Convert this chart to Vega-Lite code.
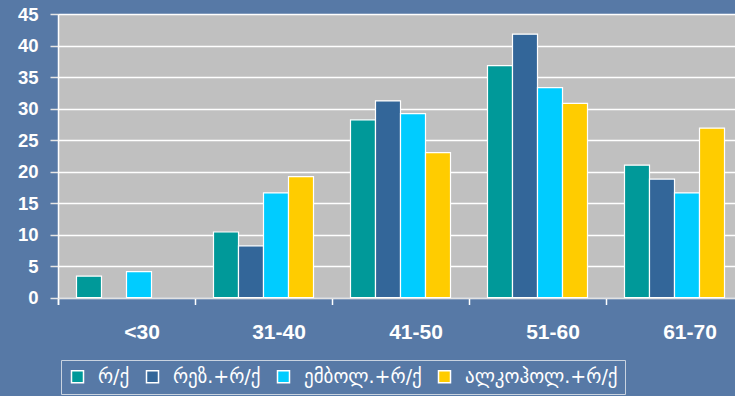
{
  "$schema": "https://vega.github.io/schema/vega-lite/v6.json",
  "width": 677,
  "height": 283.5,
  "autosize": "none",
  "padding": {"left": 58, "top": 14, "right": 0, "bottom": 98.5},
  "background": "#5779a6",
  "data": {
    "values": [
      {"age": "<30", "group": "რ/ქ", "value": 3.4},
      {"age": "<30", "group": "ემბოლ.+რ/ქ", "value": 4.1},
      {"age": "31-40", "group": "რ/ქ", "value": 10.4},
      {"age": "31-40", "group": "რეზ.+რ/ქ", "value": 8.2},
      {"age": "31-40", "group": "ემბოლ.+რ/ქ", "value": 16.6},
      {"age": "31-40", "group": "ალკოჰოლ.+რ/ქ", "value": 19.2},
      {"age": "41-50", "group": "რ/ქ", "value": 28.2},
      {"age": "41-50", "group": "რეზ.+რ/ქ", "value": 31.2},
      {"age": "41-50", "group": "ემბოლ.+რ/ქ", "value": 29.2},
      {"age": "41-50", "group": "ალკოჰოლ.+რ/ქ", "value": 23.0},
      {"age": "51-60", "group": "რ/ქ", "value": 36.8},
      {"age": "51-60", "group": "რეზ.+რ/ქ", "value": 41.8},
      {"age": "51-60", "group": "ემბოლ.+რ/ქ", "value": 33.3},
      {"age": "51-60", "group": "ალკოჰოლ.+რ/ქ", "value": 30.8},
      {"age": "61-70", "group": "რ/ქ", "value": 21.0},
      {"age": "61-70", "group": "რეზ.+რ/ქ", "value": 18.8},
      {"age": "61-70", "group": "ემბოლ.+რ/ქ", "value": 16.6},
      {"age": "61-70", "group": "ალკოჰოლ.+რ/ქ", "value": 26.9}
    ]
  },
  "mark": {"type": "bar", "stroke": "white", "strokeWidth": 1.2},
  "encoding": {
    "x": {
      "field": "age",
      "type": "nominal",
      "sort": ["<30", "31-40", "41-50", "51-60", "61-70"],
      "scale": {"range": [0, 685], "paddingInner": 0.27, "paddingOuter": 0.135},
      "axis": {
        "title": null,
        "grid": false,
        "labelAngle": 0,
        "domainColor": "#d8d8d8",
        "domainWidth": 1.5,
        "bandPosition": 0,
        "tickExtra": true,
        "tickOffset": -18.5,
        "tickColor": "white",
        "tickSize": 7,
        "tickWidth": 1.5,
        "labelColor": "white",
        "labelFont": "Liberation Sans",
        "labelFontWeight": "bold",
        "labelFontSize": 21,
        "labelOffset": 33.5,
        "labelPadding": 17
      }
    },
    "xOffset": {
      "field": "group",
      "type": "nominal",
      "sort": ["რ/ქ", "რეზ.+რ/ქ", "ემბოლ.+რ/ქ", "ალკოჰოლ.+რ/ქ"],
      "scale": {"paddingInner": 0, "paddingOuter": 0}
    },
    "y": {
      "field": "value",
      "type": "quantitative",
      "scale": {"domain": [0, 45], "nice": false},
      "axis": {
        "title": null,
        "values": [0, 5, 10, 15, 20, 25, 30, 35, 40, 45],
        "domainColor": "white",
        "domainWidth": 1.5,
        "tickColor": "#e6e6e6",
        "tickSize": 8,
        "tickWidth": 1.5,
        "labelColor": "white",
        "labelFont": "Liberation Sans",
        "labelFontWeight": "bold",
        "labelFontSize": 18.5,
        "labelPadding": 12,
        "gridColor": "white",
        "gridWidth": 1.5,
        "gridOpacity": 1
      }
    },
    "color": {
      "field": "group",
      "type": "nominal",
      "sort": ["რ/ქ", "რეზ.+რ/ქ", "ემბოლ.+რ/ქ", "ალკოჰოლ.+რ/ქ"],
      "scale": {
        "domain": ["რ/ქ", "რეზ.+რ/ქ", "ემბოლ.+რ/ქ", "ალკოჰოლ.+რ/ქ"],
        "range": ["#009999", "#336699", "#00ccff", "#ffcc00"]
      },
      "legend": {
        "title": null,
        "orient": "none",
        "legendX": 3,
        "legendY": 346,
        "direction": "horizontal",
        "symbolType": "square",
        "symbolSize": 144,
        "symbolStrokeColor": "white",
        "symbolStrokeWidth": 1.5,
        "symbolOpacity": 1,
        "labelColor": "white",
        "labelFont": "DejaVu Sans",
        "labelFontSize": 19,
        "labelOffset": 11,
        "labelLimit": 0,
        "columnPadding": 13,
        "padding": 7,
        "strokeColor": "#c9d3e0"
      }
    }
  },
  "config": {
    "view": {"fill": "#c0c0c0", "stroke": null}
  }
}
